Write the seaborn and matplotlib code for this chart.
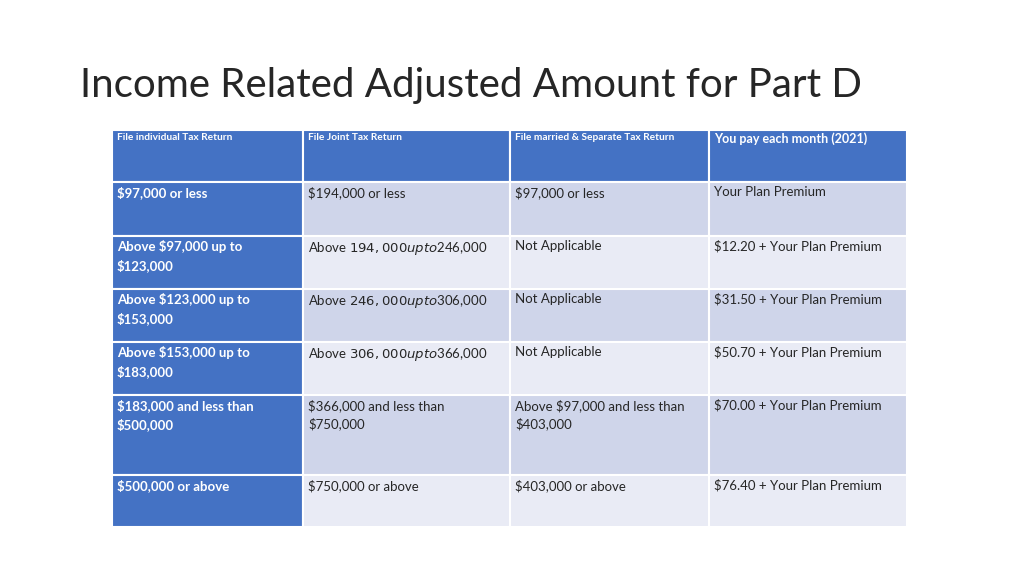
import matplotlib
matplotlib.use("Agg")
import matplotlib.pyplot as plt
import seaborn as sns
from matplotlib.patches import Rectangle

sns.set_theme(style="white")

title = "Income Related Adjusted Amount for Part D"
headers = ["File individual Tax Return", "File Joint Tax Return",
           "File married & Separate Tax Return", "You pay each month (2021)"]
col_individual = ["$97,000 or less", "Above $97,000 up to\n$123,000", "Above $123,000 up to\n$153,000",
                  "Above $153,000 up to\n$183,000", "$183,000 and less than\n$500,000", "$500,000 or above"]
col_joint = ["$194,000 or less", "Above $194,000 up to $246,000", "Above $246,000 up to $306,000",
             "Above $306,000 up to $366,000", "$366,000 and less than\n$750,000", "$750,000 or above"]
col_separate = ["$97,000 or less", "Not Applicable", "Not Applicable", "Not Applicable",
                "Above $97,000 and less than\n$403,000", "$403,000 or above"]
col_pay = ["Your Plan Premium", "$12.20 + Your Plan Premium", "$31.50 + Your Plan Premium",
           "$50.70 + Your Plan Premium", "$70.00 + Your Plan Premium", "$76.40 + Your Plan Premium"]

# layout (pixels)
col_edges = [112, 303, 510, 709, 907]
row_edges = [130, 182, 236, 289, 342, 395, 475, 527]

fig = plt.figure(figsize=(10.24, 5.76), dpi=100)
ax = fig.add_axes([0, 0, 1, 1])
ax.set_xlim(0, 1024)
ax.set_ylim(576, 0)
ax.axis("off")
fam = "Lato"
ax.text(80, 86, title, fontsize=29, family=fam, color="#262626", va="center", ha="left")

blue = "#4472C4"
dark = "#CFD5EA"
light = "#E9EBF5"
columns = [col_individual, col_joint, col_separate, col_pay]
for r in range(len(row_edges) - 1):
    y0, y1 = row_edges[r], row_edges[r + 1]
    for c in range(4):
        x0, x1 = col_edges[c], col_edges[c + 1]
        if r == 0 or c == 0:
            fc = blue
        else:
            fc = dark if r % 2 == 1 else light
        ax.add_patch(Rectangle((x0, y0), x1 - x0, y1 - y0, facecolor=fc,
                               edgecolor="white", linewidth=1.5))
        if r == 0:
            txt = headers[c]
            fs = 7.3 if c < 3 else 9
            ax.text(x0 + 5, y0 + 8 if c < 3 else y0 + 9, txt, color="white", fontsize=fs,
                    fontweight="bold", family=fam, va="center", ha="left")
        else:
            txt = columns[c][r - 1]
            color = "white" if c == 0 else "#262626"
            ax.text(x0 + 5, y0 + 4, txt, color=color, fontsize=9.5,
                    fontweight="bold" if c == 0 else "normal", family=fam,
                    va="top", ha="left", linespacing=1.55)

fig.savefig("out.png", dpi=100)
